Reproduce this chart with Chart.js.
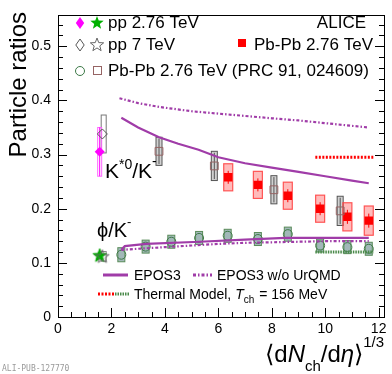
<!DOCTYPE html>
<html><head><meta charset="utf-8">
<script src="https://cdn.jsdelivr.net/npm/chart.js@4/dist/chart.umd.min.js"></script>
<style>html,body{margin:0;padding:0;background:#fff}#wrap{width:392px;height:374px;position:relative}</style>
</head><body><div id="wrap"><canvas id="c" width="392" height="374"></canvas></div>
<script>
// ---- data ----
const ppLowX = [1.56];
const ppLowKstar = [0.305];
const ppLowKstarSys = [0.045];
const ppLowPhi = [0.114];

const ppHighX = [1.66];
const ppHighKstar = [0.338];
const ppHighKstarSys = [0.035];
const ppHighPhi = [0.112];
const ppHighPhiSys = [0.009];

const prcKstarX = [3.78, 5.85, 8.08, 10.56];
const prcKstar = [0.306, 0.279, 0.235, 0.196];
const prcKstarSys = [0.026, 0.027, 0.026, 0.027];

const pbKstarX = [6.37, 7.48, 8.6, 9.81, 10.83, 11.63];
const pbKstar = [0.258, 0.244, 0.224, 0.200, 0.185, 0.178];
const pbKstarSys = [0.025, 0.025, 0.025, 0.025, 0.026, 0.027];
const pbKstarStat = [0.012, 0.012, 0.012, 0.012, 0.013, 0.013];

const phiX = [2.37, 3.28, 4.24, 5.28, 6.35, 7.48, 8.6, 9.81, 10.83, 11.63];
const phiK = [0.115, 0.130, 0.139, 0.146, 0.150, 0.144, 0.153, 0.132, 0.129, 0.126];
const phiKSys = [0.013, 0.012, 0.012, 0.012, 0.012, 0.012, 0.013, 0.012, 0.012, 0.012];

const eposKstarX = [2.37, 3, 3.78, 4.5, 5.26, 6, 7, 8, 9, 10, 11, 11.63];
const eposKstar = [0.368, 0.350, 0.332, 0.320, 0.309, 0.295, 0.284, 0.276, 0.268, 0.260, 0.252, 0.247];
const eposNoKstarX = [2.3, 3, 3.78, 5, 6.37, 8, 9, 10, 11, 11.63];
const eposNoKstar = [0.404, 0.395, 0.388, 0.380, 0.374, 0.367, 0.363, 0.358, 0.353, 0.350];
const eposPhiX = [2.37, 2.5, 3.3, 5.3, 7, 8.5, 10, 11.63];
const eposPhi = [0.124, 0.131, 0.135, 0.139, 0.143, 0.146, 0.146, 0.146];
const eposNoPhiX = [2.37, 3, 4, 5, 6, 7, 8, 9, 10, 11.63];
const eposNoPhi = [0.124, 0.126, 0.129, 0.132, 0.135, 0.137, 0.138, 0.139, 0.140, 0.140];

const thermalX = [9.63, 11.8];
const thermalKstar = [0.295, 0.295];
const thermalPhi = [0.120, 0.120];

const xTicks = [0, 2, 4, 6, 8, 10, 12];
const yTicks = [0, 0.1, 0.2, 0.3, 0.4, 0.5];

// ---- helpers ----
const FONT = '"Liberation Sans", Arial, sans-serif';
const pts = (xs, ys) => xs.map((x, i) => ({x, y: ys[i]}));
const PURPLE = '#a03ca8';

function starPath(ctx, cx, cy, R) {
  const r = R * 0.42;
  ctx.beginPath();
  for (let i = 0; i < 10; i++) {
    const a = -Math.PI / 2 + i * Math.PI / 5;
    const rr = i % 2 ? r : R;
    const px = cx + rr * Math.cos(a), py = cy + rr * Math.sin(a);
    i ? ctx.lineTo(px, py) : ctx.moveTo(px, py);
  }
  ctx.closePath();
}
function starImage(fill, stroke) {
  const c = document.createElement('canvas');
  c.width = 16; c.height = 16;
  const g = c.getContext('2d');
  starPath(g, 8, 8.5, 7);
  if (fill) { g.fillStyle = fill; g.fill(); }
  g.lineWidth = 1; g.strokeStyle = stroke; g.stroke();
  return c;
}
const starFilled = starImage('#00b000', '#00a000');
const starOpen = starImage(null, '#666');

// ---- plugin for error boxes, frame, ticks, texts ----
const deco = {
  id: 'deco',
  beforeDatasetsDraw(chart) {
    const {ctx, scales: {x, y}} = chart;
    function box(xv, yv, e, w, fill, stroke, lw) {
      const px = x.getPixelForValue(xv);
      const t = y.getPixelForValue(yv + e), b = y.getPixelForValue(yv - e);
      ctx.save();
      if (fill) { ctx.fillStyle = fill; ctx.fillRect(px - w / 2, t, w, b - t); }
      if (stroke) { ctx.strokeStyle = stroke; ctx.lineWidth = lw || 1; ctx.strokeRect(px - w / 2, t, w, b - t); }
      ctx.restore();
    }
    function bar(xv, yv, e, color, lw) {
      const px = x.getPixelForValue(xv);
      ctx.save(); ctx.strokeStyle = color; ctx.lineWidth = lw || 1;
      ctx.beginPath(); ctx.moveTo(px, y.getPixelForValue(yv + e)); ctx.lineTo(px, y.getPixelForValue(yv - e)); ctx.stroke();
      ctx.restore();
    }
    ppHighX.forEach((xv, i) => {
      box(xv + 0.05, ppHighKstar[i], ppHighKstarSys[i], 5, null, '#777', 1);
      box(xv + 0.05, ppHighPhi[i], ppHighPhiSys[i], 5, null, '#888', 1);
    });
    ppLowX.forEach((xv, i) => {
      box(xv, ppLowKstar[i], ppLowKstarSys[i], 4, null, '#ff66ff', 1);
      bar(xv, ppLowKstar[i], ppLowKstarSys[i], '#ff00ff', 1);
    });
    phiX.forEach((xv, i) => {
      box(xv, phiK[i], phiKSys[i], 7, 'rgba(130,160,160,0.75)', '#5a8c5a', 1);
    });
    prcKstarX.forEach((xv, i) => {
      box(xv, prcKstar[i], prcKstarSys[i], 6, 'rgba(190,190,190,0.7)', '#555', 1);
      bar(xv, prcKstar[i], prcKstarSys[i] * 0.9, '#555', 1);
    });
    pbKstarX.forEach((xv, i) => {
      box(xv, pbKstar[i], pbKstarSys[i], 9, 'rgba(255,60,60,0.35)', 'rgba(255,70,70,0.9)', 1.2);
      bar(xv, pbKstar[i], pbKstarStat[i], '#ff0000', 1);
    });
  },
  afterDraw(chart) {
    const {ctx, chartArea: ca, scales: {x, y}} = chart;
    ctx.save();
    ctx.strokeStyle = '#000'; ctx.lineWidth = 1;
    ctx.strokeRect(Math.round(ca.left) + 0.5, Math.round(ca.top) + 0.5, Math.round(ca.right - ca.left), Math.round(ca.bottom - ca.top));
    ctx.beginPath();
    for (let v = 0; v <= y.max + 1e-9; v += 0.02) {
      const major = Math.abs(v * 10 - Math.round(v * 10)) < 1e-6;
      const py = Math.round(y.getPixelForValue(v)) + 0.5;
      const L = major ? 9 : 5;
      ctx.moveTo(ca.left, py); ctx.lineTo(ca.left + L, py);
      ctx.moveTo(ca.right, py); ctx.lineTo(ca.right - L, py);
    }
    for (let v = 0; v <= x.max + 1e-9; v += 0.5) {
      const major = Math.abs(v / 2 - Math.round(v / 2)) < 1e-6;
      const px = Math.round(x.getPixelForValue(v)) + 0.5;
      const L = major ? 9 : 5;
      ctx.moveTo(px, ca.bottom); ctx.lineTo(px, ca.bottom - L);
    }
    ctx.stroke();

    ctx.fillStyle = '#000';
    ctx.textBaseline = 'alphabetic';
    ctx.save();
    ctx.translate(26, 12); ctx.rotate(-Math.PI / 2);
    ctx.font = '24px ' + FONT; ctx.textAlign = 'right';
    ctx.fillText('Particle ratios', 0, 0);
    ctx.restore();

    // x title (right aligned)
    const big = '24px ' + FONT, ital = 'italic 24px ' + FONT, sm = '15px ' + FONT;
    const parts = [['\u27E8', big, 0], ['d', big, 0], ['N', ital, 0], ['ch', sm, 9], ['/d', big, 0], ['\u03B7', ital, 0], ['\u27E9', big, 0], ['1/3', sm, -15]];
    let tw = 0;
    parts.forEach(p => { ctx.font = p[1]; tw += ctx.measureText(p[0]).width; });
    let cx = 384 - tw;
    ctx.textAlign = 'left';
    parts.forEach(p => { ctx.font = p[1]; ctx.fillText(p[0], cx, 362 + p[2]); cx += ctx.measureText(p[0]).width; });

    ctx.font = '8px "DejaVu Sans Mono", monospace'; ctx.fillStyle = '#999';
    ctx.fillText('ALI-PUB-127770', 2, 371);
    ctx.fillStyle = '#000';

    // top legend
    ctx.font = '17px ' + FONT;
    ctx.fillText('pp 2.76 TeV', 108, 28);
    ctx.fillText('pp 7 TeV', 108, 50);
    ctx.fillText('Pb-Pb 2.76 TeV (PRC 91, 024609)', 108, 76);
    ctx.textAlign = 'right';
    ctx.fillText('ALICE', 366, 28);
    ctx.fillText('Pb-Pb 2.76 TeV', 373, 50);
    ctx.textAlign = 'left';
    function diamond(cx0, cy0, r, fill, stroke) {
      ctx.beginPath(); ctx.moveTo(cx0, cy0 - r); ctx.lineTo(cx0 + r * 0.7, cy0); ctx.lineTo(cx0, cy0 + r); ctx.lineTo(cx0 - r * 0.7, cy0); ctx.closePath();
      if (fill) { ctx.fillStyle = fill; ctx.fill(); }
      if (stroke) { ctx.strokeStyle = stroke; ctx.lineWidth = 1; ctx.stroke(); }
    }
    diamond(80, 23, 6, '#ff00ff', null);
    starPath(ctx, 97, 23, 7); ctx.fillStyle = '#00b000'; ctx.fill();
    diamond(80, 45, 6, null, '#555');
    starPath(ctx, 97, 45, 7); ctx.strokeStyle = '#666'; ctx.lineWidth = 1; ctx.stroke();
    ctx.beginPath(); ctx.arc(80, 71, 4.5, 0, Math.PI * 2); ctx.strokeStyle = '#3c7846'; ctx.stroke();
    ctx.strokeStyle = 'rgb(150,100,100)'; ctx.strokeRect(93.5, 66.5, 8, 8);
    ctx.fillStyle = '#ff0000'; ctx.fillRect(238, 39, 8, 8);
    ctx.fillStyle = '#000';

    // bottom legend
    ctx.lineWidth = 3; ctx.strokeStyle = PURPLE;
    ctx.beginPath(); ctx.moveTo(103, 275); ctx.lineTo(128, 275); ctx.stroke();
    ctx.setLineDash([3, 2, 1.5, 2]);
    ctx.beginPath(); ctx.moveTo(193, 275); ctx.lineTo(212, 275); ctx.stroke();
    ctx.setLineDash([2, 1.5]); ctx.strokeStyle = '#ff0000';
    ctx.beginPath(); ctx.moveTo(98, 294); ctx.lineTo(114, 294); ctx.stroke();
    ctx.setLineDash([1.5, 1]); ctx.strokeStyle = '#4a8a4a';
    ctx.beginPath(); ctx.moveTo(115, 294); ctx.lineTo(129, 294); ctx.stroke();
    ctx.setLineDash([]);
    ctx.font = '14px ' + FONT;
    ctx.fillText('EPOS3', 134, 280);
    ctx.fillText('EPOS3 w/o UrQMD', 217, 280);
    let tx = 134;
    const th1 = 'Thermal Model, ';
    ctx.fillText(th1, tx, 299); tx += ctx.measureText(th1).width;
    ctx.font = 'italic 14px ' + FONT; ctx.fillText('T', tx, 299); tx += ctx.measureText('T').width;
    ctx.font = '10px ' + FONT; ctx.fillText('ch', tx, 303); tx += ctx.measureText('ch').width + 1;
    ctx.font = '14px ' + FONT; ctx.fillText(' = 156 MeV', tx, 299);

    // ratio labels
    tx = 105;
    ctx.font = '21px ' + FONT; ctx.fillText('K', tx, 178); tx += ctx.measureText('K').width;
    ctx.font = '14px ' + FONT; ctx.fillText('*0', tx, 169); tx += ctx.measureText('*0').width;
    ctx.font = '21px ' + FONT; ctx.fillText('/K', tx, 178); tx += ctx.measureText('/K').width;
    ctx.font = '14px ' + FONT; ctx.fillText('-', tx, 166);
    tx = 97;
    ctx.font = '20px ' + FONT; ctx.fillText('\u03D5/K', tx, 237); tx += ctx.measureText('\u03D5/K').width;
    ctx.font = '13px ' + FONT; ctx.fillText('-', tx, 226);
    ctx.restore();
  }
};

const lineDs = (xs, ys, color, dash, w) => ({
  type: 'scatter', data: pts(xs, ys), showLine: true, borderColor: color, borderWidth: w || 2,
  borderDash: dash || [], pointRadius: 0, fill: false, tension: 0
});
const markDs = (xs, ys, style, r, bg, bc, bw) => ({
  type: 'scatter', data: pts(xs, ys), showLine: false, pointStyle: style, pointRadius: r,
  backgroundColor: bg, borderColor: bc, borderWidth: bw == null ? 1 : bw
});

new Chart(document.getElementById('c'), {
  type: 'scatter',
  data: {
    datasets: [
      lineDs(eposKstarX, eposKstar, PURPLE, null, 2.2),
      lineDs(eposPhiX, eposPhi, PURPLE, null, 2.2),
      lineDs(eposNoKstarX, eposNoKstar, PURPLE, [3, 2, 1.5, 2], 2.2),
      lineDs(eposNoPhiX, eposNoPhi, PURPLE, [3, 2, 1.5, 2], 2.2),
      lineDs(thermalX, thermalKstar, '#ff0000', [2, 1.5], 3),
      lineDs(thermalX, thermalPhi, '#4a8a4a', [1.5, 1], 3),
      markDs(ppLowX, ppLowKstar, 'rectRot', 5, '#ff00ff', '#ff00ff', 0),
      markDs(ppHighX, ppHighKstar, 'rectRot', 5, 'rgba(0,0,0,0)', '#555', 1),
      markDs(prcKstarX, prcKstar, 'rect', 5.5, 'rgba(0,0,0,0)', 'rgb(150,100,100)', 1),
      markDs(pbKstarX, pbKstar, 'rect', 6, '#ff0000', '#ff0000', 0),
      markDs(phiX, phiK, 'circle', 4.5, 'rgba(0,0,0,0)', '#3c7846', 1),
      markDs(ppHighX, ppHighPhi, starOpen, 7, 'rgba(0,0,0,0)', '#666', 1),
      markDs(ppLowX, ppLowPhi, starFilled, 7, '#00b000', '#00b000', 1)
    ]
  },
  options: {
    responsive: false, animation: false, devicePixelRatio: 1,
    layout: {padding: {top: 8, right: 5, left: 0, bottom: 0}},
    plugins: {legend: {display: false}, tooltip: {enabled: false}},
    scales: {
      x: {
        type: 'linear', min: 0, max: 12.2,
        afterBuildTicks: s => { s.ticks = xTicks.map(v => ({value: v})); },
        afterFit: s => { s.height = 57; },
        grid: {display: false, drawTicks: false}, border: {display: false},
        ticks: {padding: 4, color: '#000', font: {family: FONT, size: 14}, maxRotation: 0, autoSkip: false,
          callback: v => String(v)}
      },
      y: {
        type: 'linear', min: 0, max: 0.557,
        afterBuildTicks: s => { s.ticks = yTicks.map(v => ({value: v})); },
        afterFit: s => { s.width = 58; },
        grid: {display: false, drawTicks: false}, border: {display: false},
        ticks: {padding: 7, color: '#000', font: {family: FONT, size: 14}, autoSkip: false,
          callback: v => String(v)}
      }
    }
  },
  plugins: [deco]
});
</script>
</body></html>
